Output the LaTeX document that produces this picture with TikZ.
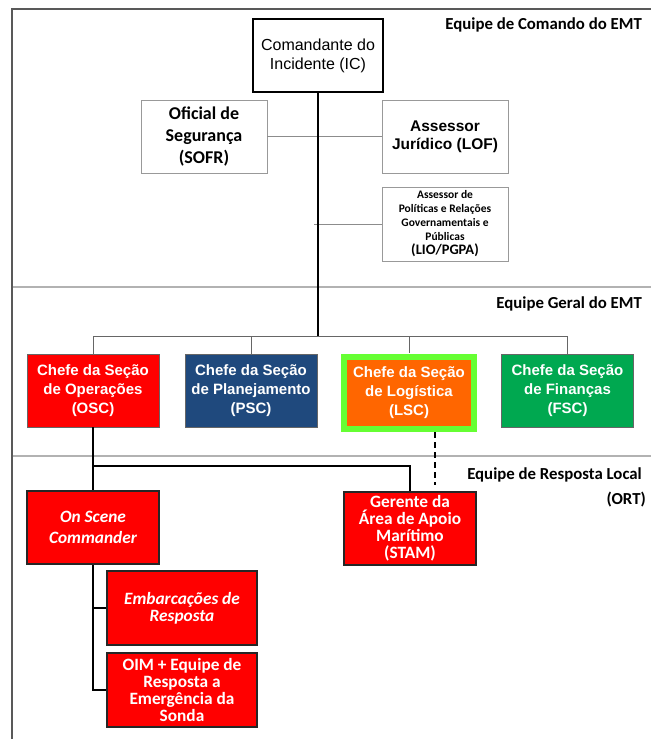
\documentclass[tikz,border=0pt]{standalone}
\usepackage{fontspec}
\setmainfont{Liberation Sans}
\newfontfamily\calfont{Carlito}
\definecolor{myred}{RGB}{255,0,0}
\definecolor{mynavy}{RGB}{31,73,125}
\definecolor{myorange}{RGB}{255,102,0}
\definecolor{mygreen}{RGB}{0,168,80}
\definecolor{mylime}{RGB}{102,255,51}
\begin{document}
\begin{tikzpicture}[x=1pt,y=-1pt,
  framestyle/.style={draw=black!65, line width=1.5pt},
  divider/.style={draw=black!30, line width=2pt},
  secl/.style={anchor=east, inner sep=0pt, font=\calfont\bfseries\fontsize{16.8}{19}\selectfont},
  wbox/.style={draw=black!40, line width=0.9pt, fill=white, inner sep=0pt, align=center,
    minimum width=126pt, minimum height=73pt},
  cbox/.style={draw=black!60, line width=0.7pt, inner sep=0pt, align=center, text=white,
    minimum width=132pt, minimum height=73pt, font=\bfseries\fontsize{15}{19}\selectfont},
  rbox/.style={draw=black!85, line width=1.1pt, fill=myred, inner sep=0pt, align=center, text=white,
    font=\calfont\bfseries\fontsize{17.3}{17}\selectfont},
  blk/.style={draw=black, line width=1.3pt},
  gry/.style={draw=black!45, line width=1pt},
  dgry/.style={draw=black!60, line width=1pt},
  dashline/.style={draw=black, line width=1.5pt, dash pattern=on 6pt off 4pt}
]
\useasboundingbox (0,0) rectangle (651,739);

% frame and dividers
\draw[framestyle] (12,739) -- (12,9) -- (651,9);
\draw[divider] (13,287) -- (651,287);
\draw[divider] (13,456) -- (651,456);

% section labels
\node[secl] (lab1) at (642,25) {Equipe de Comando do EMT};
\node[secl] (lab2) at (642,304) {Equipe Geral do EMT};
\node[secl] (lab3) at (642,475) {Equipe de Resposta Local};
\node[secl] (lab4) at (646,500) {(ORT)};

% command team
\node[draw=black, line width=1.3pt, fill=white, inner sep=0pt, align=center,
  minimum width=130pt, minimum height=73pt, font=\fontsize{16}{19}\selectfont]
  (ic) at (318,55.5) {Comandante do\\Incidente (IC)};
\node[wbox, font=\calfont\bfseries\fontsize{18}{22}\selectfont] (sofr) at (204,136.5) {Oficial de\\Segurança\\(SOFR)};
\node[wbox, font=\bfseries\fontsize{15.5}{18}\selectfont] (lof) at (445,136.5) {Assessor\\Jurídico (LOF)};
\node[wbox, minimum height=74pt, font=\calfont\bfseries\fontsize{11.5}{14}\selectfont] (lio) at (445,224)
  {Assessor de\\Políticas e Relações\\Governamentais e\\Públicas\\\fontsize{14.5}{17}\selectfont(LIO/PGPA)};

\coordinate (busc) at (318,336);
\coordinate (busL) at (93,336);
\coordinate (busR) at (568,336);
\coordinate (liostub) at (314,224);

\draw[gry] (sofr.east) -- (lof.west);
\draw[gry] (liostub) -- (lio.west);
\draw[blk] (ic.south) -- (busc);

% general staff
\node[cbox, fill=myred] (osc) at (93,390.5) {Chefe da Seção\\de Operações\\(OSC)};
\node[cbox, fill=mynavy] (psc) at (251,390.5) {Chefe da Seção\\de Planejamento\\(PSC)};
\node[cbox, fill=myorange, draw=mylime, line width=6pt, minimum width=130pt, minimum height=72pt] (lsc) at (409,393) {Chefe da Seção\\de Logística\\(LSC)};
\node[cbox, fill=mygreen] (fsc) at (567.5,390.5) {Chefe da Seção\\de Finanças\\(FSC)};

\draw[dgry] (busL) -- (busR);
\draw[dgry] (busL) -- (osc.north);
\draw[dgry] (psc.north |- busL) -- (psc.north);
\draw[dgry] (lsc.north |- busL) -- (409,353);
\draw[dgry] (fsc.north |- busL) -- (fsc.north);

% local response team
\node[rbox, minimum width=132pt, minimum height=73pt, font=\calfont\bfseries\itshape\fontsize{17.3}{20.5}\selectfont] (cmd) at (93,527.5) {On Scene\\Commander};
\node[rbox, minimum width=132pt, minimum height=73pt] (stam) at (410,528.5) {Gerente da\\Área de Apoio\\Marítimo\\(STAM)};
\node[rbox, minimum width=150pt, minimum height=74pt, font=\calfont\bfseries\itshape\fontsize{17.3}{17}\selectfont] (emb) at (182,608) {Embarcações de\\Resposta};
\node[rbox, minimum width=150pt, minimum height=74pt] (oim) at (182,690) {OIM + Equipe de\\Resposta a\\Emergência da\\Sonda};

\coordinate (j1) at (93,466);
\coordinate (dashtop) at (435,432);
\coordinate (dashend) at (435,485);

\draw[blk] (osc.south) -- (cmd.north);
\draw[blk] (j1) -| (stam.north);
\draw[dashline] (dashtop) -- (dashend);
\draw[blk] (cmd.south) |- (oim.west);
\draw[blk] (cmd.south |- emb.west) -- (emb.west);
\end{tikzpicture}
\end{document}
